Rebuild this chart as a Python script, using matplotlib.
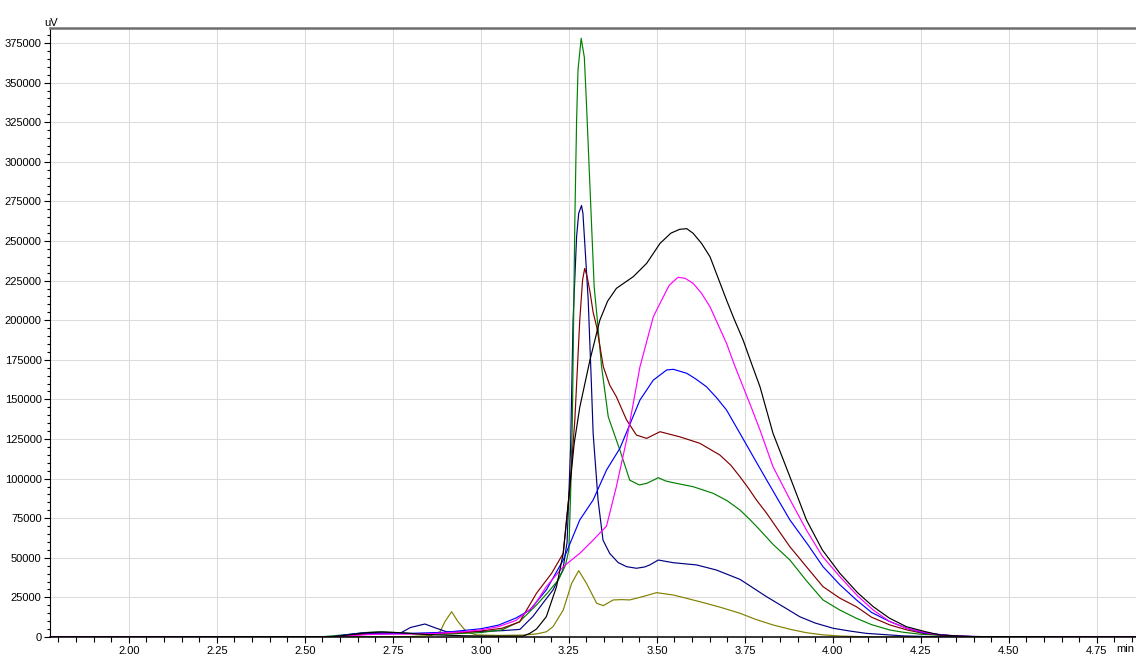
import matplotlib
matplotlib.use("Agg")
import matplotlib.pyplot as plt
from matplotlib.ticker import MultipleLocator, FormatStrFormatter

# ─── data (x in min, y in uV) ───
green_x = [1.78, 2.55, 2.62, 2.67, 2.71, 2.76, 2.82, 2.90, 3.00, 3.06, 3.11, 3.158, 3.19, 3.22,
           3.24, 3.25, 3.255, 3.26, 3.267, 3.272, 3.276, 3.285, 3.294, 3.300, 3.310, 3.322, 3.331,
           3.343, 3.362, 3.395, 3.423, 3.45, 3.471, 3.49, 3.504, 3.525, 3.547, 3.603, 3.660,
           3.70, 3.736, 3.765, 3.793, 3.83, 3.878, 3.925, 3.972, 4.02, 4.067, 4.11, 4.162,
           4.20, 4.247, 4.35, 4.50, 4.87]
green_y = [0, 200, 1500, 2800, 3200, 2800, 2000, 1800, 2800, 4500, 9700, 20200, 28000, 36000,
           45000, 55000, 90000, 137000, 263000, 326000, 358000, 378000, 366000, 337000, 284000,
           221000, 200000, 170600, 139000, 118000, 99000, 96000, 97000, 99000, 100600, 98500,
           97400, 94900, 90700, 86000, 80200, 74000, 67500, 58500, 48600, 35500, 23400, 17000,
           11800, 7800, 4400, 3000, 1800, 400, 0, 0]

navy_x = [1.78, 2.58, 2.63, 2.68, 2.73, 2.77, 2.80, 2.841, 2.874, 2.903, 2.95, 3.00, 3.06, 3.111,
          3.148, 3.175, 3.205, 3.233, 3.245, 3.255, 3.262, 3.272, 3.278, 3.286, 3.290, 3.297,
          3.305, 3.314, 3.319, 3.333, 3.347, 3.366, 3.39, 3.414, 3.442, 3.465, 3.480, 3.504,
          3.547, 3.613, 3.669, 3.736, 3.77, 3.812, 3.86, 3.906, 3.95, 4.001, 4.05, 4.095, 4.20,
          4.30, 4.87]
navy_y = [0, 200, 1200, 1800, 2000, 2300, 6000, 8200, 5500, 3300, 3300, 3500, 4000, 4800,
          13000, 21000, 29700, 42300, 60000, 120000, 200000, 252700, 267500, 272400, 267500,
          242200, 212700, 160200, 128600, 86500, 61200, 52800, 47000, 44400, 43400, 44200,
          45500, 48600, 46900, 45500, 42300, 36400, 31500, 25400, 19000, 12800, 8800, 5500,
          3700, 2300, 700, 100, 0]

maroon_x = [1.78, 2.58, 2.63, 2.68, 2.72, 2.77, 2.85, 2.95, 3.00, 3.06, 3.11, 3.158, 3.201, 3.234,
            3.253, 3.267, 3.281, 3.289, 3.295, 3.302, 3.310, 3.319, 3.329, 3.348, 3.366, 3.385,
            3.414, 3.442, 3.471, 3.49, 3.509, 3.565, 3.622, 3.679, 3.71, 3.736, 3.76, 3.783,
            3.812, 3.845, 3.878, 3.93, 3.972, 4.02, 4.067, 4.11, 4.162, 4.21, 4.256, 4.35, 4.50,
            4.87]
maroon_y = [0, 200, 1200, 2200, 2500, 2200, 2000, 2800, 3800, 5500, 9500, 27600, 40200, 52800,
            94900, 137000, 200000, 225400, 232700, 227500, 218000, 205000, 195900, 170600,
            159100, 151700, 137000, 127500, 125400, 127500, 129600, 126400, 122300, 114900,
            108500, 101200, 94000, 86500, 78100, 67500, 57000, 43000, 31800, 24500, 19100,
            12500, 7600, 4500, 2300, 500, 0, 0]

black_x = [1.78, 2.58, 2.63, 2.68, 2.72, 2.77, 2.85, 2.95, 3.05, 3.12, 3.139, 3.158, 3.186, 3.215,
           3.234, 3.253, 3.265, 3.281, 3.310, 3.338, 3.36, 3.385, 3.433, 3.471, 3.509, 3.54,
           3.565, 3.585, 3.603, 3.627, 3.651, 3.698, 3.72, 3.745, 3.77, 3.793, 3.830, 3.88,
           3.925, 3.97, 4.020, 4.07, 4.115, 4.16, 4.209, 4.26, 4.304, 4.40, 4.87]
black_y = [0, 200, 1500, 2800, 3200, 2700, 1500, 800, 500, 600, 2300, 5000, 12800, 31800,
           52800, 94900, 122000, 145000, 174900, 200000, 212000, 220100, 227500, 235900, 248500,
           255000, 257400, 257800, 254900, 248500, 240100, 212700, 200500, 187500, 172000,
           158000, 128600, 100000, 73900, 55000, 40200, 28000, 19100, 12000, 6500, 3500, 1300,
           200, 0]

magenta_x = [1.78, 2.58, 2.63, 2.68, 2.72, 2.77, 2.85, 2.95, 3.00, 3.05, 3.10, 3.149, 3.186, 3.234,
             3.281, 3.319, 3.357, 3.385, 3.414, 3.452, 3.490, 3.509, 3.535, 3.560, 3.580, 3.603,
             3.627, 3.651, 3.698, 3.72, 3.745, 3.77, 3.793, 3.830, 3.88, 3.925, 3.97, 4.020,
             4.07, 4.115, 4.16, 4.209, 4.26, 4.304, 4.40, 4.87]
magenta_y = [0, 200, 800, 1500, 1800, 1800, 2000, 3300, 4500, 6500, 10500, 19100, 31800, 44400,
             52800, 61200, 70000, 94900, 124400, 170600, 202200, 210700, 222000, 227100, 226500,
             223300, 217000, 208500, 185400, 172000, 158000, 144000, 130700, 107500, 86000,
             67500, 51000, 38100, 26000, 17000, 10000, 5500, 3000, 1300, 200, 0]

blue_x = [1.78, 2.58, 2.62, 2.66, 2.70, 2.75, 2.80, 2.90, 3.00, 3.05, 3.10, 3.139, 3.186, 3.234,
          3.281, 3.319, 3.357, 3.395, 3.452, 3.490, 3.528, 3.547, 3.585, 3.61, 3.641, 3.67,
          3.698, 3.736, 3.774, 3.812, 3.878, 3.93, 3.972, 4.02, 4.067, 4.11, 4.162, 4.21, 4.256,
          4.35, 4.50, 4.87]
blue_y = [0, 200, 1500, 2500, 2500, 2300, 2300, 3000, 5200, 7500, 12000, 17000, 29700, 48600,
          73900, 86500, 105400, 119100, 149600, 162200, 168600, 169000, 166500, 163000, 158000,
          151000, 143300, 128600, 113800, 99100, 73900, 58000, 44400, 33000, 23400, 15500, 9700,
          5500, 2700, 500, 0, 0]

olive_x = [1.78, 2.80, 2.86, 2.884, 2.898, 2.917, 2.935, 2.959, 2.988, 3.05, 3.12, 3.16, 3.186,
           3.205, 3.234, 3.258, 3.278, 3.300, 3.329, 3.348, 3.376, 3.40, 3.423, 3.46, 3.499,
           3.547, 3.622, 3.68, 3.736, 3.78, 3.830, 3.88, 3.925, 3.97, 4.020, 4.12, 4.87]
olive_y = [0, 300, 1000, 3300, 9700, 16000, 9700, 3300, 1300, 1000, 1200, 2000, 3300, 6500,
           17000, 33900, 41900, 33900, 21300, 19800, 23400, 23600, 23400, 25500, 28000, 26500,
           22300, 18800, 15000, 11200, 7600, 4800, 2700, 1400, 600, 0, 0]

series = [
    (olive_x, olive_y, "#808000"),
    (navy_x, navy_y, "#000080"),
    (green_x, green_y, "#008000"),
    (maroon_x, maroon_y, "#800000"),
    (blue_x, blue_y, "#0000FF"),
    (magenta_x, magenta_y, "#FF00FF"),
    (black_x, black_y, "#000000"),
]

plt.rcParams['font.family'] = ['Liberation Sans', 'DejaVu Sans']

W, H = 1136, 655
fig = plt.figure(figsize=(W / 100, H / 100), dpi=100)
# axes run past the right edge, like the screenshot
ax = fig.add_axes([50 / W, 18 / H, 1090 / W, 609 / H])

for xs, ys, c in series:
    ax.plot(xs, ys, color=c, linewidth=0.85, solid_joinstyle='round')

ax.set_xlim(1.776, 1.776 + 1090 / 352)
ax.set_ylim(0, 384500)

ax.xaxis.set_major_locator(MultipleLocator(0.25))
ax.xaxis.set_minor_locator(MultipleLocator(0.05))
ax.xaxis.set_major_formatter(FormatStrFormatter('%.2f'))
ax.yaxis.set_major_locator(MultipleLocator(25000))
ax.yaxis.set_minor_locator(MultipleLocator(5000))
ax.yaxis.set_major_formatter(FormatStrFormatter('%d'))

ax.grid(True, which='major', color='#DCDCDC', linewidth=0.8)
ax.set_axisbelow(True)

ax.spines['right'].set_visible(False)
ax.spines['top'].set_color('#6E6E6E')
ax.spines['top'].set_linewidth(1.8)
ax.spines['bottom'].set_linewidth(1.1)
ax.spines['left'].set_linewidth(0.8)

ax.tick_params(axis='x', which='major', length=4, width=0.8, pad=2.5, labelsize=8)
ax.tick_params(axis='x', which='minor', length=3.5, width=0.8)
ax.tick_params(axis='y', which='major', length=4.5, width=0.8, pad=1.5, labelsize=8)
ax.tick_params(axis='y', which='minor', length=2.2, width=0.8)

fig.text(44 / W, 1 - 26 / H, 'uV', fontsize=8, ha='left', va='baseline')
# unit label at the bottom-right corner, kept fully inside the figure
fig.text(1134 / W, 1 - 652 / H, 'min', fontsize=8, ha='right', va='baseline')

fig.savefig('out.png', dpi=100)
